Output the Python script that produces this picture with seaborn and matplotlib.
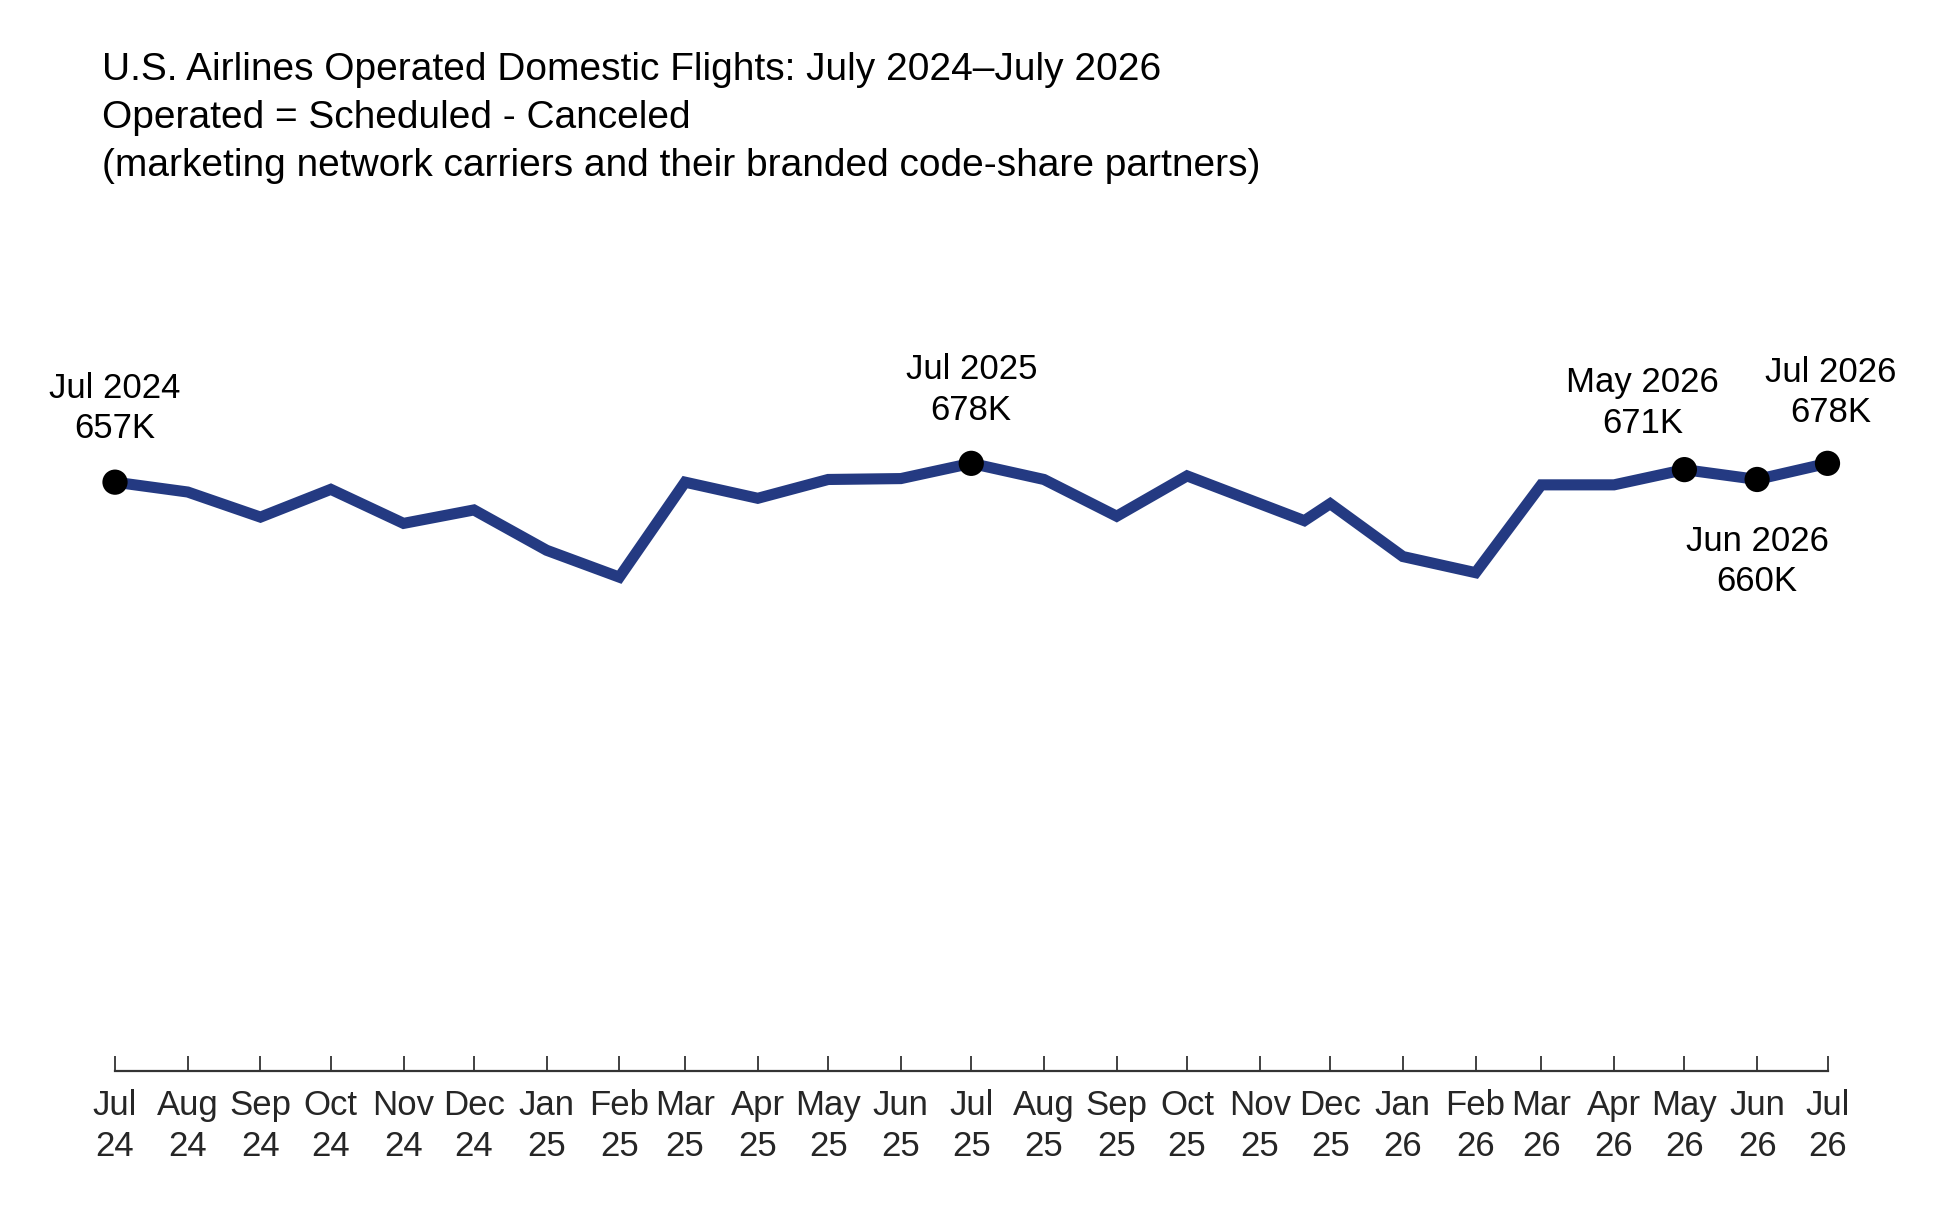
import matplotlib
matplotlib.use("Agg")
import matplotlib.pyplot as plt
import matplotlib.dates as mdates
import seaborn as sns
import pandas as pd

# ---- data (thousands of operated domestic flights) ----
dates = ["2024-07-01", "2024-08-01", "2024-09-01", "2024-10-01", "2024-11-01", "2024-12-01",
         "2025-01-01", "2025-02-01", "2025-03-01", "2025-04-01", "2025-05-01", "2025-06-01",
         "2025-07-01", "2025-08-01", "2025-09-01", "2025-10-01", "2025-11-20", "2025-12-01",
         "2026-01-01", "2026-02-01", "2026-03-01", "2026-04-01", "2026-05-01", "2026-06-01",
         "2026-07-01"]
flights_k = [657, 646, 618, 649, 611, 626,
             581, 551, 657, 639, 660, 661,
             678, 660, 619, 664, 614, 633,
             574, 556, 654, 654, 671, 660,
             678]

tick_dates = pd.date_range("2024-07-01", "2026-07-01", freq="MS")
tick_labels = [d.strftime("%b") + "\n" + d.strftime("%y") for d in tick_dates]

hl_dates = ["2024-07-01", "2025-07-01", "2026-05-01", "2026-06-01", "2026-07-01"]
hl_values = [657, 678, 671, 660, 678]
hl_labels = ["Jul 2024\n657K", "Jul 2025\n678K", "May 2026\n671K", "Jun 2026\n660K", "Jul 2026\n678K"]

title_lines = ["U.S. Airlines Operated Domestic Flights: July 2024\u2013July 2026",
               "Operated = Scheduled - Canceled",
               "(marketing network carriers and their branded code-share partners)"]

df = pd.DataFrame({"date": pd.to_datetime(dates), "flights": flights_k})
hl = pd.DataFrame({"date": pd.to_datetime(hl_dates), "flights": hl_values, "label": hl_labels})

sns.set_theme(style="white")
plt.rcParams["font.family"] = ["Liberation Sans", "DejaVu Sans"]

W, H = 1950, 1209
fig = plt.figure(figsize=(W / 100, H / 100), dpi=100)
ax_left, ax_right = 115 / W, 1827.5 / W
ax_bottom_px, ax_top_px = 1071, 354
ax = fig.add_axes([ax_left, 1 - ax_bottom_px / H, ax_right - ax_left, (ax_bottom_px - ax_top_px) / H])

sns.lineplot(data=df, x="date", y="flights", ax=ax, color="#243a82", linewidth=8,
             solid_joinstyle="miter", zorder=2)
sns.scatterplot(data=hl, x="date", y="flights", ax=ax, color="black", s=330,
                edgecolor="none", zorder=3, clip_on=False)

offsets = [(0, 53), (0, 53), (-30, 48), (0, -59), (2, 51)]
for (_, r), off in zip(hl.iterrows(), offsets):
    ax.annotate(r["label"], (mdates.date2num(r["date"]), r["flights"]), xytext=off,
                textcoords="offset points", ha="center", va="center", fontsize=25,
                linespacing=1.3, color="black")

ax.set_xlim(tick_dates[0], tick_dates[-1])
ax.set_ylim(0, 800)
ax.set_xticks(tick_dates)
ax.set_xticklabels(tick_labels, fontsize=25, linespacing=1.3)
ax.tick_params(axis="x", direction="in", length=11, width=1.3, color="#333333", pad=13, bottom=True)
ax.set_yticks([])
ax.set_xlabel("")
ax.set_ylabel("")
for s in ["left", "top", "right"]:
    ax.spines[s].set_visible(False)
ax.spines["bottom"].set_color("#333333")
ax.spines["bottom"].set_linewidth(1.6)

for i, line in enumerate(title_lines):
    fig.text(102 / W, 1 - (69.5 + 48 * i) / H, line, ha="left", va="center", fontsize=28, color="black")

fig.savefig("out.png", dpi=100, facecolor="white")
